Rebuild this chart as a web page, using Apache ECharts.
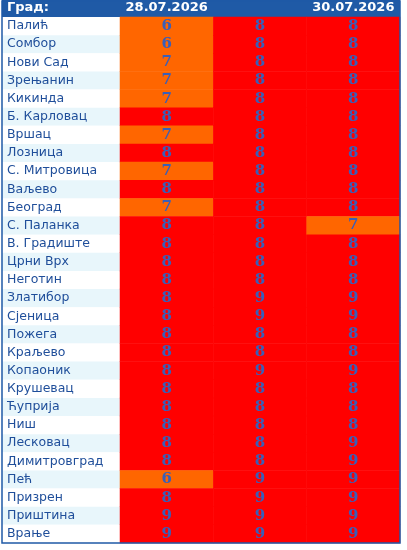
<!DOCTYPE html><html><head><meta charset="utf-8"><script src="https://cdn.jsdelivr.net/npm/echarts@6/dist/echarts.min.js"></script>
<style>html,body{margin:0;padding:0;background:#fff}#c{width:407px;height:550px}</style></head><body><div id="c"></div><script>
const cities=['Палић','Сомбор','Нови Сад','Зрењанин','Кикинда','Б. Карловац','Вршац','Лозница','С. Митровица','Ваљево','Београд','С. Паланка','В. Градиште','Црни Врх','Неготин','Златибор','Сјеница','Пожега','Краљево','Копаоник','Крушевац','Ћуприја','Ниш','Лесковац','Димитровград','Пећ','Призрен','Приштина','Врање'];
const dates=['28.07.2026','29.07.2026','30.07.2026'];
const d1=[6,6,7,7,7,8,7,8,7,8,7,8,8,8,8,8,8,8,8,8,8,8,8,8,8,6,8,9,9];
const d2=[8,8,8,8,8,8,8,8,8,8,8,8,8,8,8,9,9,8,8,9,8,8,8,8,8,9,9,9,9];
const d3=[8,8,8,8,8,8,8,8,8,8,8,7,8,8,8,9,9,8,8,9,8,8,8,9,9,9,9,9,9];
const headerLabel='Град:';
const cols=[d1,d2,d3];const data=[];
cols.forEach((c,i)=>c.forEach((v,j)=>data.push([i,j,v])));
const ch=echarts.init(document.getElementById('c'));
ch.setOption({animation:false,
grid:[{left:2,width:118,top:17,bottom:7},{left:120,right:7,top:17,bottom:7}],
xAxis:[{gridIndex:0,type:'value',show:false,min:0,max:1},
{gridIndex:1,type:'category',data:dates,position:'top',axisLine:{show:false},axisTick:{show:false},
axisLabel:{margin:3,color:'#fff',fontWeight:'bold',fontSize:13,fontFamily:'DejaVu Sans'}}],
yAxis:[{gridIndex:0,type:'category',data:cities,inverse:true,axisLine:{show:false},axisTick:{show:false},
splitArea:{show:true,areaStyle:{color:['#ffffff','#e8f6fb']}},
axisLabel:{inside:true,margin:5,color:'#1f4e9a',fontSize:12.5,fontFamily:'DejaVu Sans'}},
{gridIndex:1,type:'category',data:cities,inverse:true,show:false}],
visualMap:{show:false,type:'piecewise',dimension:2,seriesIndex:0,pieces:[{lte:7,color:'#ff6600'},{gt:7,color:'#ff0000'}]},
graphic:[{type:'rect',shape:{x:2,y:0,width:398,height:17},style:{fill:'#1f5aa6'},z:-1},
{type:'text',left:7,top:1,style:{text:headerLabel,fill:'#fff',font:'bold 13px DejaVu Sans'}},
{type:'rect',shape:{x:2,y:1,width:398,height:542},style:{fill:'none',stroke:'#1f5aa6',lineWidth:1.5},z:100}],
series:[{type:'heatmap',xAxisIndex:1,yAxisIndex:1,data:data,
label:{show:true,color:'#3a5fb8',fontSize:15,fontWeight:'bold',fontFamily:'DejaVu Serif'}}]});
</script></body></html>
